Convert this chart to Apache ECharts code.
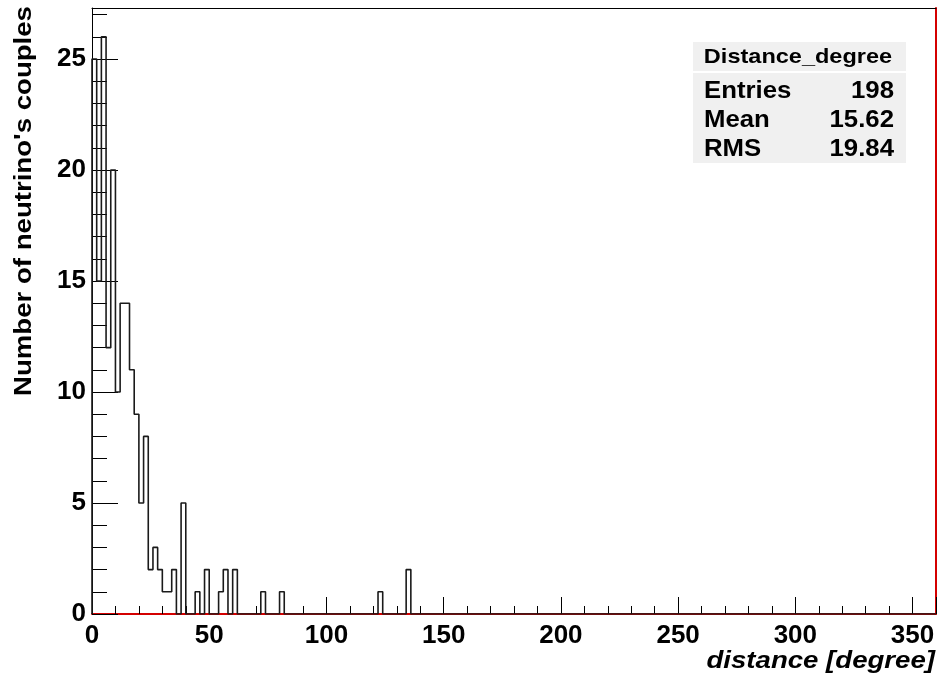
<!DOCTYPE html>
<html>
<head>
<meta charset="utf-8">
<script src="https://cdn.jsdelivr.net/npm/echarts@6/dist/echarts.min.js"></script>
<style>
html,body{margin:0;padding:0;background:#fff;}
#chart{width:942px;height:683px;}
</style>
</head>
<body>
<div id="chart"></div>
<script>
// Histogram: bin width 2 degrees, range 0..360
const binWidth = 2;
const xMin = 0;
const xMax = 360;
// Read bins (lower edges) and their counts; all other bins are empty
const binStart = [0, 2, 4, 6, 8, 10, 12, 14, 16, 18, 20, 22, 24, 26, 28, 30, 32, 34, 36, 38, 44, 48, 54, 56, 60, 72, 80, 122, 134];
const binCount = [25, 15, 26, 12, 20, 10, 14, 14, 11, 9, 5, 8, 2, 3, 2, 1, 1, 2, 0, 5, 1, 2, 1, 2, 2, 1, 1, 1, 2];
const xTicks = [0, 50, 100, 150, 200, 250, 300, 350];
const yTicks = [0, 5, 10, 15, 20, 25];
const statsTitle = 'Distance_degree';
const statsNames = ['Entries', 'Mean', 'RMS'];
const statsValues = ['198', '15.62', '19.84'];

// Build full histogram (empty bins are zero) as a step outline
const nBins = (xMax - xMin) / binWidth;
const full = new Array(nBins).fill(0);
binStart.forEach((s, i) => { full[Math.round((s - xMin) / binWidth)] = binCount[i]; });
const stepData = [[xMin, 0]];
for (let i = 0; i < nBins; i++) stepData.push([xMin + i * binWidth, full[i]]);
stepData.push([xMax, 0]);

const FONT = '"Liberation Sans", Arial, Helvetica, sans-serif';
const RED = '#d40000';

const chart = echarts.init(document.getElementById('chart'), null, {renderer: 'canvas'});
const grid = {left: 92, right: 6, top: 8, bottom: 69};
chart.setOption({
  backgroundColor: '#ffffff',
  animation: false,
  grid: grid,
  xAxis: [{
    type: 'value', min: xMin, max: xMax, interval: 50,
    axisLine: {show: true, onZero: false, lineStyle: {color: RED, width: 2}},
    axisTick: {show: true, inside: true, length: 17, lineStyle: {color: '#000', width: 1}},
    minorTick: {show: true, splitNumber: 5, length: 8, lineStyle: {color: '#000', width: 1}},
    splitLine: {show: false},
    axisLabel: {show: true, showMaxLabel: false, margin: 9, color: '#000', fontFamily: FONT, fontWeight: 'bold', fontSize: 26,
      formatter: v => (xTicks.indexOf(v) >= 0 ? String(v) : '')}
  }, {
    type: 'value', position: 'top', min: xMin, max: xMax,
    axisLine: {show: true, onZero: false, lineStyle: {color: '#000', width: 1}},
    axisTick: {show: false}, axisLabel: {show: false}, splitLine: {show: false}
  }],
  yAxis: [{
    type: 'value', min: 0, max: 27.3, interval: 5,
    axisLine: {show: true, onZero: false, lineStyle: {color: '#000', width: 1}},
    axisTick: {show: true, inside: true, length: 26, lineStyle: {color: '#000', width: 1}},
    minorTick: {show: true, splitNumber: 5, length: 15, lineStyle: {color: '#000', width: 1}},
    splitLine: {show: false},
    axisLabel: {show: true, showMaxLabel: false, margin: 6, color: '#000', fontFamily: FONT, fontWeight: 'bold', fontSize: 26,
      formatter: v => (yTicks.indexOf(v) >= 0 ? String(v) : '')}
  }, {
    type: 'value', position: 'right', min: 0, max: 27.3,
    axisLine: {show: true, onZero: false, lineStyle: {color: RED, width: 2}},
    axisTick: {show: false}, axisLabel: {show: false}, splitLine: {show: false}
  }],
  series: [{
    type: 'line', step: 'end', data: stepData, symbol: 'none',
    xAxisIndex: 0, yAxisIndex: 0,
    lineStyle: {color: '#1a1a1a', width: 1.6},
    z: 5
  }],
  graphic: [
    {type: 'text', x: 24, y: 201, rotation: Math.PI / 2, scaleX: 1.15,
      style: {text: "Number of neutrino's couples", fill: '#000', font: 'bold 24px ' + FONT, textAlign: 'center', textVerticalAlign: 'middle'}},
    {type: 'text', x: 935, y: 661, scaleX: 1.15,
      style: {text: 'distance [degree]', fill: '#000', font: 'italic bold 24px ' + FONT, textAlign: 'right', textVerticalAlign: 'middle'}},
    {type: 'rect', shape: {x: 693, y: 42, width: 213, height: 121}, style: {fill: '#f0f0f0'}, z: 10},
    {type: 'line', shape: {x1: 693, y1: 72, x2: 906, y2: 72}, style: {stroke: '#ffffff', lineWidth: 2}, z: 11},
    {type: 'text', x: 798, y: 57, z: 12, scaleX: 1.12,
      style: {text: statsTitle, fill: '#000', font: 'bold 21px ' + FONT, textAlign: 'center', textVerticalAlign: 'middle'}},
    ...statsNames.map((n, i) => ({type: 'text', x: 704, y: 92 + i * 29, z: 12, scaleX: 1.12,
      style: {text: n, fill: '#000', font: 'bold 23px ' + FONT, textAlign: 'left', textVerticalAlign: 'middle'}})),
    ...statsValues.map((v, i) => ({type: 'text', x: 894, y: 92 + i * 29, z: 12, scaleX: 1.12,
      style: {text: v, fill: '#000', font: 'bold 23px ' + FONT, textAlign: 'right', textVerticalAlign: 'middle'}}))
  ]
});
</script>
</body>
</html>
